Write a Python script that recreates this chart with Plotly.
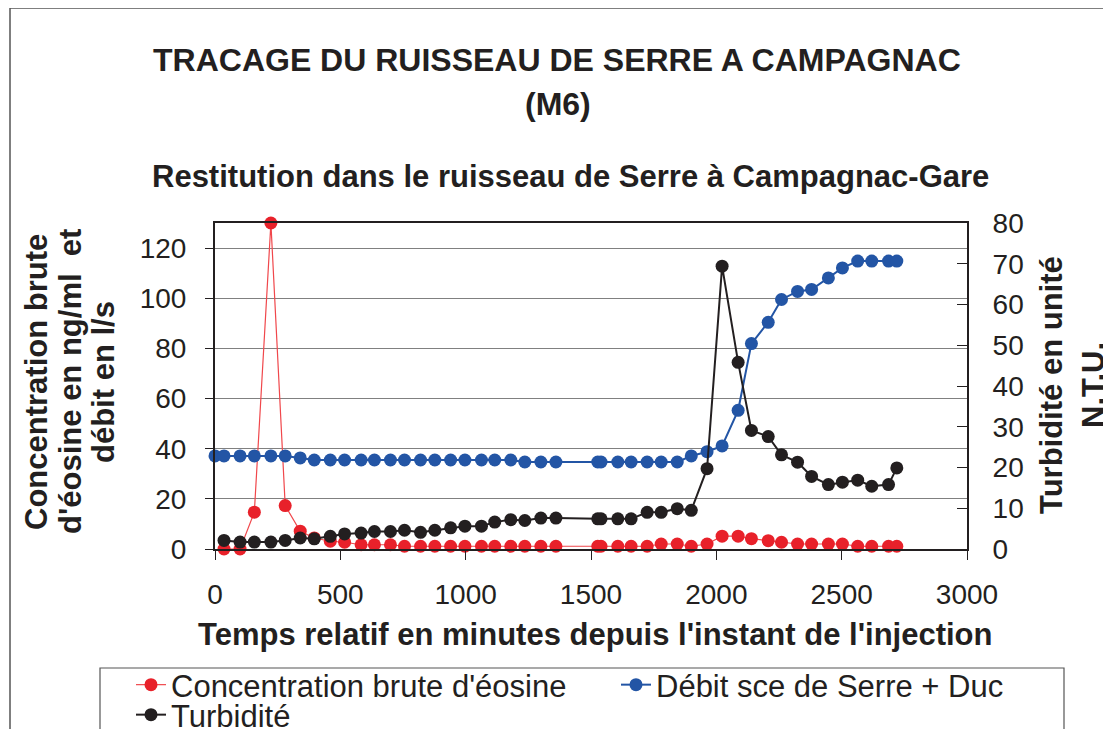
import plotly.graph_objects as go

# ---------------- data ----------------
time_debit = [0, 36, 100, 157, 223, 280, 340, 396, 460, 517, 583, 636, 700, 756, 820, 877,
              940, 997, 1063, 1116, 1180, 1236, 1300, 1360, 1527, 1540, 1607, 1660, 1724,
              1780, 1844, 1900, 1963, 2023, 2087, 2140, 2207, 2260, 2324, 2380, 2447, 2503,
              2564, 2620, 2687, 2720]
debit = [37.1, 37.1, 37.1, 37.1, 37.1, 37.1, 36.3, 35.5, 35.5, 35.5, 35.5, 35.5, 35.5, 35.5,
         35.5, 35.5, 35.5, 35.5, 35.5, 35.5, 35.5, 34.7, 34.7, 34.7, 34.7, 34.7, 34.7, 34.7,
         34.7, 34.7, 34.7, 37.1, 38.8, 41.1, 55.3, 81.9, 90.4, 99.5, 102.7, 103.5, 108.1,
         112.1, 114.8, 114.8, 114.8, 114.8]

time_mes = [36, 100, 157, 223, 280, 340, 396, 460, 517, 583, 636, 700, 756, 820, 877,
            940, 997, 1063, 1116, 1180, 1236, 1300, 1360, 1527, 1540, 1607, 1660, 1724,
            1780, 1844, 1900, 1963, 2023, 2087, 2140, 2207, 2260, 2324, 2380, 2447, 2503,
            2564, 2620, 2687, 2720]
eosine = [0, 0, 14.7, 130.0, 17.3, 7.1, 4.4, 3.1, 2.7, 1.7, 1.7, 1.7, 1.1, 1.1, 1.1,
          1.1, 1.1, 1.1, 1.1, 1.1, 1.1, 1.1, 1.1, 1.1, 1.1, 1.1, 1.1, 1.1,
          2.0, 2.0, 1.1, 2.0, 5.1, 5.1, 4.1, 3.3, 2.7, 2.0, 2.0, 2.0, 2.0,
          1.1, 1.1, 1.1, 1.1]
turbidite = [2.1, 1.7, 1.7, 1.7, 2.1, 2.7, 2.5, 3.1, 3.7, 3.9, 4.3, 4.3, 4.6, 4.1, 4.6,
             5.2, 5.6, 5.6, 6.6, 7.2, 7.0, 7.6, 7.6, 7.4, 7.4, 7.4, 7.4, 9.0,
             9.0, 9.9, 9.5, 19.7, 69.4, 45.8, 29.1, 27.6, 23.1, 21.3, 17.8, 15.8, 16.4,
             16.9, 15.4, 15.8, 19.9]

name_eosine = "Concentration brute d'éosine"
name_debit = "Débit sce de Serre + Duc"
name_turb = "Turbidité"

title_1 = "TRACAGE DU RUISSEAU DE SERRE A CAMPAGNAC"
title_2 = "(M6)"
subtitle = "Restitution dans le ruisseau de Serre à Campagnac-Gare"
x_title = "Temps relatif en minutes depuis l'instant de l'injection"
y_title_lines = ["Concentration brute", "d'éosine en ng/ml  et", "débit en l/s"]
y2_title_lines = ["Turbidité en unité", "N.T.U."]

# ---------------- layout geometry ----------------
# the page body adds an 8 px offset; positions below are in window pixels
OFF = 8
W, H = 1111, 729
PL, PT, PR, PB = 215, 223, 967, 549          # plot area in window pixels
L, T = PL - OFF, PT - OFF
PW, PH = PR - PL, PB - PT
R, B = W - L - PW, H - T - PH
FONT = "Liberation Sans, Arial, sans-serif"
RED, BLUE, BLACK = "#e8212a", "#2355a5", "#231f20"


def px(x):
    return (x - PL) / PW


def py(y):
    return (PB - y) / PH


fig = go.Figure()
fig.add_trace(go.Scatter(x=time_mes, y=eosine, name=name_eosine, mode="lines+markers",
                         line=dict(color="#f0474b", width=1.2),
                         marker=dict(color=RED, size=13), cliponaxis=False,
                         yaxis="y", legend="legend"))
fig.add_trace(go.Scatter(x=time_debit, y=debit, name=name_debit, mode="lines+markers",
                         line=dict(color=BLUE, width=2),
                         marker=dict(color=BLUE, size=13), cliponaxis=False,
                         yaxis="y", legend="legend3"))
fig.add_trace(go.Scatter(x=time_mes, y=turbidite, name=name_turb, mode="lines+markers",
                         line=dict(color=BLACK, width=2),
                         marker=dict(color=BLACK, size=13), cliponaxis=False,
                         yaxis="y2", legend="legend2"))

tickfont = dict(family=FONT, size=28, color=BLACK)
legfont = dict(family=FONT, size=31, color=BLACK)


def leg(xw, yw):
    return dict(orientation="h", x=px(xw), y=py(yw), xanchor="left", yanchor="top",
                borderwidth=0, bgcolor="rgba(0,0,0,0)", font=legfont)


fig.update_layout(
    width=W, height=H,
    margin=dict(l=L, r=R, t=T, b=B, autoexpand=False),
    paper_bgcolor="white", plot_bgcolor="white",
    font=dict(family=FONT, color=BLACK),
    xaxis=dict(range=[0, 3000], dtick=500, tick0=0, showgrid=False, zeroline=False,
               showline=True, linecolor=BLACK, linewidth=2, mirror=True,
               ticks="outside", ticklen=9, tickcolor=BLACK, tickwidth=1,
               tickfont=tickfont, ticklabelstandoff=10, automargin=False),
    yaxis=dict(range=[0, 130], dtick=20, tick0=0, showgrid=True, gridcolor="#808080",
               gridwidth=1, zeroline=False, showline=True, linecolor=BLACK, linewidth=2,
               mirror=True, ticks="outside", ticklen=8, tickcolor=BLACK, tickwidth=1,
               tickfont=tickfont, ticklabelstandoff=13, automargin=False),
    yaxis2=dict(range=[0, 80], dtick=10, tick0=0, overlaying="y", side="right",
                showgrid=False, zeroline=False, showline=True, linecolor=BLACK,
                linewidth=2, ticks="inside", ticklen=10, tickcolor=BLACK, tickwidth=1,
                tickfont=tickfont, ticklabelstandoff=18, automargin=False),
    legend=leg(131, 658),
    legend3=leg(616, 658),
    legend2=leg(131, 688),
    showlegend=True,
)

# outer chart frame and legend box
fig.add_shape(type="rect", xref="paper", yref="paper",
              x0=px(10), x1=px(1109), y0=py(790), y1=py(8),
              line=dict(color="#555555", width=1.5), layer="below")
fig.add_shape(type="rect", xref="paper", yref="paper",
              x0=px(100), x1=px(1064), y0=py(790), y1=py(668),
              line=dict(color="#555555", width=1.2), layer="below")


def ann(text, x, y, size=32, angle=0):
    fig.add_annotation(text="<b>%s</b>" % text, xref="paper", yref="paper",
                       x=px(x), y=py(y), xanchor="center", yanchor="middle",
                       showarrow=False, textangle=angle,
                       font=dict(family=FONT, size=size, color=BLACK))


ann(title_1, 557, 60)
ann(title_2, 558, 104)
ann(subtitle, 570, 177, size=31)
ann(x_title, 595, 634, size=31)
for line, xc in zip(y_title_lines, [36, 70, 103]):
    ann(line, xc, 382, size=31, angle=-90)
for line, xc in zip(y2_title_lines, [1051, 1093]):
    ann(line, xc, 385, size=31, angle=-90)

fig.write_html("out.html")
